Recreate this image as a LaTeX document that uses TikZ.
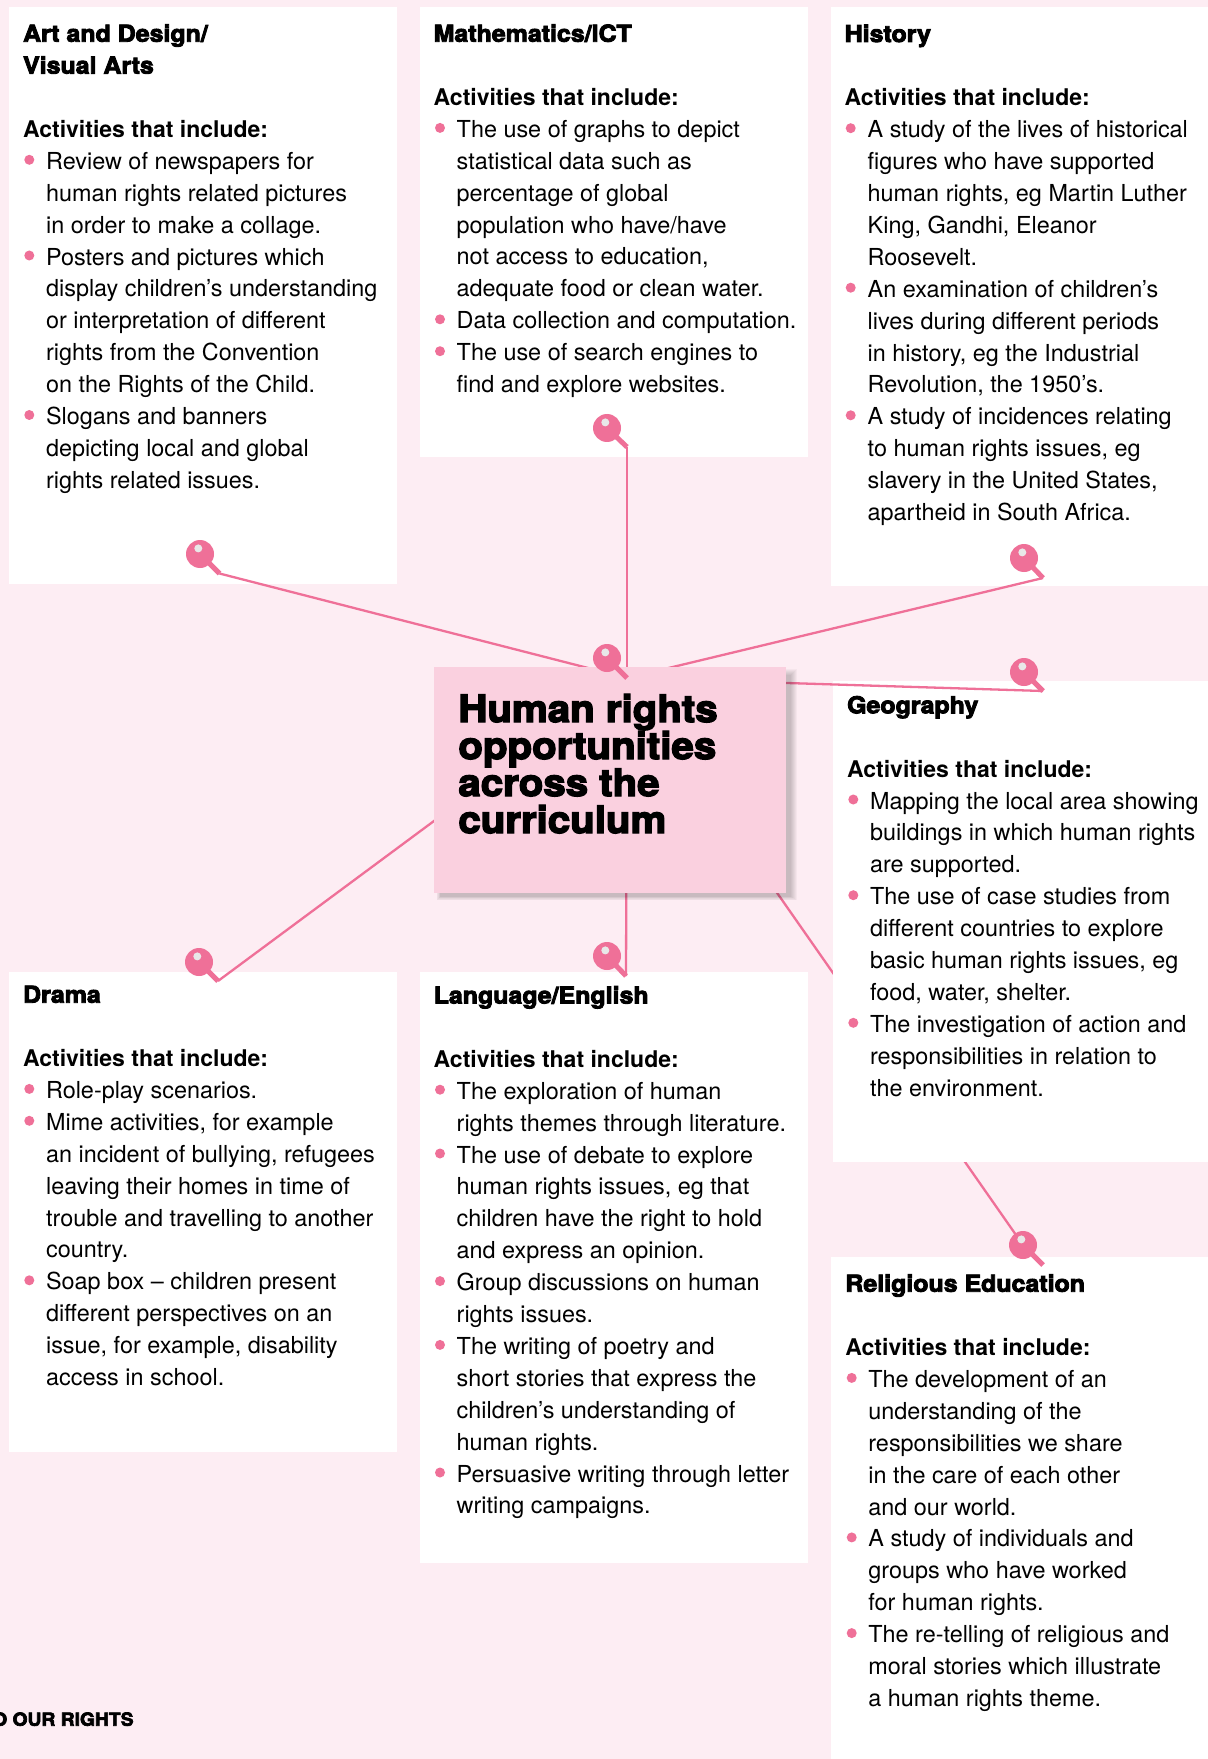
\documentclass[tikz,border=0pt]{standalone}
\usepackage{fontspec}
\setmainfont{TeX Gyre Heros}
\newfontfamily\blackfont[FakeStretch=1.07,FakeBold=3.8,BoldFeatures={FakeBold=3.8}]{TeX Gyre Heros}
\definecolor{bgpink}{RGB}{253,237,243}
\definecolor{centerpink}{RGB}{250,208,223}
\definecolor{pinpink}{RGB}{239,112,152}
\definecolor{dotgray}{RGB}{232,232,232}
\newcommand\bodyfont{\fontsize{11.7}{15.95}\selectfont}
\newcommand\hd[1]{{\blackfont\bfseries\fontsize{11.65}{15.95}\selectfont #1}}
\newcommand\act{{\bfseries\fontsize{11.5}{15.95}\selectfont Activities that include:}}
\newcommand\Ind{\hspace*{11.5pt}}
\newcommand\bul[3]{\fill[pinpink] (#1,{#2+#3*31.9-9.5}) circle (5);}
\newcommand\pinat[2]{%
  \draw[pintail] (#1) -- (#2);
  \fill[pinpink] (#1) circle (14);
  \fill[dotgray] ([shift={(-1.7,-5.6)}]#1) circle (4);}
\tikzset{
  conn/.style={draw=pinpink, line width=1.15pt},
  pintail/.style={draw=pinpink, line width=2.5pt},
  txt/.style={anchor=base west, inner sep=0pt, align=left, font=\bodyfont, text=black},
  wbox/.style={fill=white},
}
\begin{document}
\begin{tikzpicture}[x=0.5pt,y=-0.5pt]
\useasboundingbox (0,0) rectangle (1208,1759);
\fill[bgpink] (0,0) rectangle (1208,1759);

% coordinates of pins (head, tail tip)
\coordinate (cenH) at (607,658);   \coordinate (cenT) at (627,678);
\coordinate (artH) at (200,554);   \coordinate (artT) at (219.5,573.5);
\coordinate (matH) at (607,428);   \coordinate (matT) at (627,447);
\coordinate (hisH) at (1024,558);  \coordinate (hisT) at (1043,578);
\coordinate (geoH) at (1024,672);  \coordinate (geoT) at (1043,691);
\coordinate (draH) at (199,962);   \coordinate (draT) at (218,981);
\coordinate (lanH) at (607,956);   \coordinate (lanT) at (626,976);
\coordinate (relH) at (1023,1245); \coordinate (relT) at (1043,1265);

% connector running behind the Geography box
\draw[conn] (cenT) -- (relH);

% white panels
\fill[wbox] (9,7.3) rectangle (397,584);
\fill[wbox] (420,6.7) rectangle (808,457);
\fill[wbox] (830.7,7.3) rectangle (1208,586);
\fill[wbox] (833,681) rectangle (1208,1162);
\fill[wbox] (9,972) rectangle (397,1451.7);
\fill[wbox] (420,972) rectangle (808,1563.3);
\fill[wbox] (831,1257) rectangle (1208,1759);

% connectors
\draw[conn] (cenT) -- (artT);
\draw[conn] (cenT) -- (matT);
\draw[conn] (cenT) -- (hisT);
\draw[conn] (cenT) -- (geoT);
\draw[conn] (cenT) -- (draT);
\draw[conn] (cenT) -- (lanT);

% centre box with soft shadow
\foreach \e in {1,...,7} {\fill[black,opacity=0.03] (441-\e*0.6,676-\e) rectangle (790+\e,896+\e*0.6);}
\node[fill=centerpink, minimum width=176pt, minimum height=113pt, anchor=north west, inner sep=0pt] (centerbox) at (434,667) {};
\node[anchor=base west, inner sep=0pt, align=left, font={\blackfont\bfseries\fontsize{18.8}{18.5}\selectfont\lineskiplimit=-20pt}] (title) at (458,{722+3*37})
  {Human rights\\opportunities\\across the\\curriculum};

% pins
\pinat{cenH}{cenT}
\pinat{artH}{artT}
\pinat{matH}{matT}
\pinat{hisH}{hisT}
\pinat{geoH}{geoT}
\pinat{draH}{draT}
\pinat{lanH}{lanT}
\pinat{relH}{relT}

% Art and Design (node placed at baseline of its last line)
\node[txt] (arttext) at (22.7,{41.7+14*31.9}) {%
\hd{Art and Design/}\\
\hd{Visual Arts}\\[15.95pt]
\act\\
\Ind Review of newspapers for\\
\Ind human rights related pictures\\
\Ind in order to make a collage.\\
\Ind Posters and pictures which\\
\Ind display children’s understanding\\
\Ind or interpretation of different\\
\Ind rights from the Convention\\
\Ind on the Rights of the Child.\\
\Ind Slogans and banners\\
\Ind depicting local and global\\
\Ind rights related issues.};
\bul{29.3}{41.7}{4}\bul{29.3}{41.7}{7}\bul{29.3}{41.7}{12}

% Mathematics
\node[txt] (mattext) at (433.3,{41.7+11*31.9}) {%
\hd{Mathematics/ICT}\\[15.95pt]
\act\\
\Ind The use of graphs to depict\\
\Ind statistical data such as\\
\Ind percentage of global\\
\Ind population who have/have\\
\Ind not access to education,\\
\Ind adequate food or clean water.\\
\Ind Data collection and computation.\\
\Ind The use of search engines to\\
\Ind find and explore websites.};
\bul{440}{41.7}{3}\bul{440}{41.7}{9}\bul{440}{41.7}{10}

% History
\node[txt] (histext) at (844.3,{42+15*31.9}) {%
\hd{History}\\[15.95pt]
\act\\
\Ind A study of the lives of historical\\
\Ind figures who have supported\\
\Ind human rights, eg Martin Luther\\
\Ind King, Gandhi, Eleanor\\
\Ind Roosevelt.\\
\Ind An examination of children’s\\
\Ind lives during different periods\\
\Ind in history, eg the Industrial\\
\Ind Revolution, the 1950’s.\\
\Ind A study of incidences relating\\
\Ind to human rights issues, eg\\
\Ind slavery in the United States,\\
\Ind apartheid in South Africa.};
\bul{850.7}{42}{3}\bul{850.7}{42}{8}\bul{850.7}{42}{12}

% Geography
\node[txt] (geotext) at (846.7,{713.3+12*31.9}) {%
\hd{Geography}\\[15.95pt]
\act\\
\Ind Mapping the local area showing\\
\Ind buildings in which human rights\\
\Ind are supported.\\
\Ind The use of case studies from\\
\Ind different countries to explore\\
\Ind basic human rights issues, eg\\
\Ind food, water, shelter.\\
\Ind The investigation of action and\\
\Ind responsibilities in relation to\\
\Ind the environment.};
\bul{853.3}{713.3}{3}\bul{853.3}{713.3}{6}\bul{853.3}{713.3}{10}

% Drama
\node[txt] (dratext) at (22.7,{1002.7+12*31.9}) {%
\hd{Drama}\\[15.95pt]
\act\\
\Ind Role-play scenarios.\\
\Ind Mime activities, for example\\
\Ind an incident of bullying, refugees\\
\Ind leaving their homes in time of\\
\Ind trouble and travelling to another\\
\Ind country.\\
\Ind Soap box – children present\\
\Ind different perspectives on an\\
\Ind issue, for example, disability\\
\Ind access in school.};
\bul{29.3}{1002.7}{3}\bul{29.3}{1002.7}{4}\bul{29.3}{1002.7}{9}

% Language
\node[txt] (lantext) at (433.3,{1003.5+16*31.9}) {%
\hd{Language/English}\\[15.95pt]
\act\\
\Ind The exploration of human\\
\Ind rights themes through literature.\\
\Ind The use of debate to explore\\
\Ind human rights issues, eg that\\
\Ind children have the right to hold\\
\Ind and express an opinion.\\
\Ind Group discussions on human\\
\Ind rights issues.\\
\Ind The writing of poetry and\\
\Ind short stories that express the\\
\Ind children’s understanding of\\
\Ind human rights.\\
\Ind Persuasive writing through letter\\
\Ind writing campaigns.};
\bul{440}{1003.5}{3}\bul{440}{1003.5}{5}\bul{440}{1003.5}{9}\bul{440}{1003.5}{11}\bul{440}{1003.5}{15}

% Religious Education
\node[txt] (reltext) at (845,{1291.7+13*31.9}) {%
\hd{Religious Education}\\[15.95pt]
\act\\
\Ind The development of an\\
\Ind understanding of the\\
\Ind responsibilities we share\\
\Ind in the care of each other\\
\Ind and our world.\\
\Ind A study of individuals and\\
\Ind groups who have worked\\
\Ind for human rights.\\
\Ind The re-telling of religious and\\
\Ind moral stories which illustrate\\
\Ind a human rights theme.};
\bul{851.7}{1291.7}{3}\bul{851.7}{1291.7}{8}\bul{851.7}{1291.7}{11}

% footer
\node[anchor=base east, inner sep=0pt, font={\blackfont\bfseries\fontsize{9}{10}\selectfont}] (footer) at (134,1725.7) {TO OUR RIGHTS};
\end{tikzpicture}
\end{document}
